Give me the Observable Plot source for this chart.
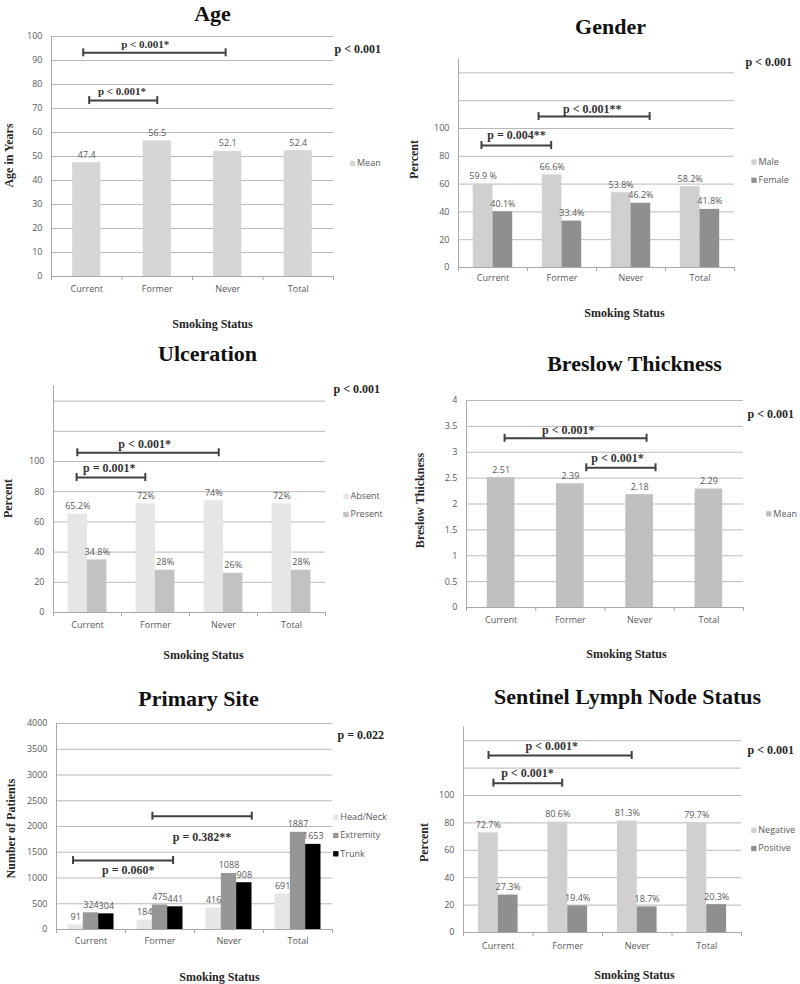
<!DOCTYPE html>
<html>
<head>
<meta charset="utf-8">
<script src="https://cdn.jsdelivr.net/npm/d3@7"></script>
<script src="https://cdn.jsdelivr.net/npm/@observablehq/plot@0.6"></script>
<style>
  body { margin: 0; background: #fff; }
  #root { position: relative; width: 800px; height: 984px; overflow: hidden; background: #fff; }
  .panel { position: absolute; }
</style>
</head>
<body>
<div id="root"></div>
<script>
// ---------------- DATA ----------------
const categories = ["Current", "Former", "Never", "Total"];

// Age
const ageSeries = ["Mean"];
const ageMean = [47.4, 56.5, 52.1, 52.4];
const ageLabels = ["47.4", "56.5", "52.1", "52.4"];

// Gender
const genderSeries = ["Male", "Female"];
const genderMale = [59.9, 66.6, 53.8, 58.2];
const genderFemale = [40.1, 33.4, 46.2, 41.8];
const genderMaleLabels = ["59.9 %", "66.6%", "53.8%", "58.2%"];
const genderFemaleLabels = ["40.1%", "33.4%", "46.2%", "41.8%"];

// Ulceration
const ulcerSeries = ["Absent", "Present"];
const ulcerAbsent = [65.2, 72, 74, 72];
const ulcerPresent = [34.8, 28, 26, 28];
const ulcerAbsentLabels = ["65.2%", "72%", "74%", "72%"];
const ulcerPresentLabels = ["34.8%", "28%", "26%", "28%"];

// Breslow thickness
const breslowSeries = ["Mean"];
const breslowMean = [2.51, 2.39, 2.18, 2.29];
const breslowLabels = ["2.51", "2.39", "2.18", "2.29"];

// Primary site
const siteSeries = ["Head/Neck", "Extremity", "Trunk"];
const siteHeadNeck = [91, 184, 416, 691];
const siteExtremity = [324, 475, 1088, 1887];
const siteTrunk = [304, 441, 908, 1653];

// Sentinel lymph node
const slnSeries = ["Negative", "Positive"];
const slnNegative = [72.7, 80.6, 81.3, 79.7];
const slnPositive = [27.3, 19.4, 18.7, 20.3];
const slnNegativeLabels = ["72.7%", "80.6%", "81.3%", "79.7%"];
const slnPositiveLabels = ["27.3%", "19.4%", "18.7%", "20.3%"];

// Tick labels
const ticksAge = [0, 10, 20, 30, 40, 50, 60, 70, 80, 90, 100];
const ticksPercent = [0, 20, 40, 60, 80, 100];
const gridPercent = [20, 40, 60, 80, 100, 120, 140];
const ticksBreslow = [0, 0.5, 1, 1.5, 2, 2.5, 3, 3.5, 4];
const ticksSite = [0, 500, 1000, 1500, 2000, 2500, 3000, 3500, 4000];

// Overall p values
const pAge = "p < 0.001";
const pGender = "p < 0.001";
const pUlcer = "p < 0.001";
const pBreslow = "p < 0.001";
const pSite = "p = 0.022";
const pSln = "p < 0.001";

// Pairwise comparison brackets (x in category units, y in value units)
const ageBrackets = [
  {x1: 0.45, x2: 2.47, y: 93.2, tx: 1.33, label: "p < 0.001*", dy: -5},
  {x1: 0.535, x2: 1.50, y: 73.3, tx: 1.0, label: "p < 0.001*", dy: -6}
];
const genderBrackets = [
  {x1: 0.333, x2: 1.343, y: 87.8, tx: 0.84, label: "p = 0.004**", dy: -6},
  {x1: 1.16, x2: 2.77, y: 108.6, tx: 1.94, label: "p < 0.001**", dy: -4}
];
const ulcerBrackets = [
  {x1: 0.35, x2: 2.43, y: 105.8, tx: 1.34, label: "p < 0.001*", dy: -5},
  {x1: 0.34, x2: 1.35, y: 89.4, tx: 0.82, label: "p = 0.001*", dy: -6}
];
const breslowBrackets = [
  {x1: 0.55, x2: 2.60, y: 3.27, tx: 1.47, label: "p < 0.001*", dy: -4},
  {x1: 1.73, x2: 2.73, y: 2.70, tx: 2.18, label: "p < 0.001*", dy: -6}
];
const siteBrackets = [
  {x1: 0.24, x2: 1.69, y: 1340, tx: 1.04, label: "p = 0.060*", dy: 14},
  {x1: 1.39, x2: 2.83, y: 2200, tx: 2.11, label: "p = 0.382**", dy: 25}
];
const slnBrackets = [
  {x1: 0.36, x2: 2.42, y: 129.2, tx: 1.27, label: "p < 0.001*", dy: -5},
  {x1: 0.43, x2: 1.42, y: 109.0, tx: 0.92, label: "p < 0.001*", dy: -6}
];

// ---------------- STYLE ----------------
const SERIF = "'Liberation Serif', 'Times New Roman', serif";
const SANS = "'Open Sans', sans-serif";
const GRID = "#b9b9b9";
const AXIS = "#a8a8a8";
const TXT = "#595959";
const BR = "#404040";

function buildPanel(c) {
  const B = c.box, F = c.frame;
  const n = c.series.length;
  const w = 1 / (n + 1.5);
  const off = (1 - n * w) / 2;
  const rows = c.series.flatMap((s, j) => categories.map((cat, i) => ({
    cat, s, v: c.values[j][i], lab: c.labels[j][i],
    x1: i + off + j * w, x2: i + off + (j + 1) * w
  })));
  const ends = c.brackets.flatMap(b => [{x: b.x1, y: b.y}, {x: b.x2, y: b.y}]);
  const at = (px, py, text, o) => Plot.text([text], {
    frameAnchor: "top-left", dx: px - F.x0, dy: py - F.y0, text: d => d, ...o
  });
  const marks = [
    Plot.ruleY(c.grid, {stroke: GRID}),
    Plot.rectY(rows, {x1: "x1", x2: "x2", y: "v", fill: "s"}),
    Plot.ruleY([0], {stroke: AXIS}),
    Plot.ruleX([0], {stroke: AXIS}),
    Plot.ruleX([0, 1, 2, 3, 4], {y1: () => 0, y2: () => 0, insetBottom: -4, stroke: AXIS}),
    Plot.axisY({ticks: c.yTicks, tickSize: 0, tickPadding: 9, tickFormat: d => String(d), label: null,
      fill: TXT, fontSize: 9, fontFamily: SANS}),
    Plot.axisX({ticks: [0.5, 1.5, 2.5, 3.5], tickFormat: d => categories[Math.floor(d)], tickSize: 0,
      tickPadding: c.xPad, label: null, fill: TXT, fontSize: 9, fontFamily: SANS}),
    Plot.text(rows, {x: d => (d.x1 + d.x2) / 2, y: "v", text: "lab", dy: -5, lineAnchor: "bottom",
      fill: TXT, fontSize: 9, fontFamily: SANS}),
    Plot.ruleY(c.brackets, {x1: "x1", x2: "x2", y: "y", stroke: BR, strokeWidth: 2}),
    Plot.ruleX(ends, {x: "x", y1: "y", y2: "y", insetTop: -4, insetBottom: -4, stroke: BR, strokeWidth: 2}),
    ...c.brackets.map(b => Plot.text([b], {x: "tx", y: "y", text: "label", dy: b.dy, lineAnchor: "bottom",
      fontFamily: SERIF, fontWeight: "bold", fontSize: c.bracketFont, fill: "#333"})),
    at(c.titlePos[0], c.titlePos[1], c.title, {textAnchor: "middle", lineAnchor: "bottom",
      fontFamily: SERIF, fontWeight: "bold", fontSize: 22, fill: "#111"}),
    at(c.yLabelPos[0], c.yLabelPos[1], c.yLabel, {rotate: -90, textAnchor: "middle", lineAnchor: "middle",
      fontFamily: SERIF, fontWeight: "bold", fontSize: 12, fill: "#262626"}),
    at(c.xTitlePos[0], c.xTitlePos[1], "Smoking Status", {textAnchor: "middle", lineAnchor: "bottom",
      fontFamily: SERIF, fontWeight: "bold", fontSize: 12, fill: "#262626"}),
    at(c.pPos[0], c.pPos[1], c.pText, {textAnchor: "start", lineAnchor: "bottom",
      fontFamily: SERIF, fontWeight: "bold", fontSize: 12, fill: "#262626"}),
    ...c.series.flatMap((s, j) => [
      Plot.dot([s], {frameAnchor: "top-left", dx: c.legendPos[0] - F.x0, dy: c.legendPos[1] + j * 18.3 - F.y0,
        symbol: "square", r: 3, fill: c.colors[j], stroke: "none"}),
      at(c.legendPos[0] + 4.5, c.legendPos[1] + j * 18.3, s, {textAnchor: "start", lineAnchor: "middle",
        fill: TXT, fontSize: 9, fontFamily: SANS})
    ])
  ];
  const chart = Plot.plot({
    width: B.w, height: B.h,
    marginLeft: F.x0 - B.x, marginRight: B.x + B.w - F.x1,
    marginTop: F.y0 - B.y, marginBottom: B.y + B.h - F.y1,
    x: {domain: [0, 4]},
    y: {domain: c.yDomain},
    color: {domain: c.series, range: c.colors},
    style: {background: "transparent", overflow: "visible"},
    marks
  });
  const div = document.createElement("div");
  div.className = "panel";
  div.style.left = B.x + "px";
  div.style.top = B.y + "px";
  div.appendChild(chart);
  document.getElementById("root").appendChild(div);
}

buildPanel({
  box: {x: 0, y: 0, w: 400, h: 330}, frame: {x0: 51, x1: 333, y0: 36, y1: 276},
  series: ageSeries, colors: ["#d6d6d6"], values: [ageMean], labels: [ageLabels],
  yDomain: [0, 100], grid: ticksAge.slice(1), yTicks: ticksAge, xPad: 9,
  brackets: ageBrackets, bracketFont: 11,
  title: "Age", titlePos: [212, 20], yLabel: "Age in Years", yLabelPos: [9, 155],
  xTitlePos: [212, 327], pText: pAge, pPos: [334, 52], legendPos: [352, 163]
});
buildPanel({
  box: {x: 400, y: 0, w: 400, h: 330}, frame: {x0: 458, x1: 734, y0: 58.5, y1: 267},
  series: genderSeries, colors: ["#d0d0d0", "#8f8f8f"], values: [genderMale, genderFemale],
  labels: [genderMaleLabels, genderFemaleLabels],
  yDomain: [0, 150], grid: gridPercent, yTicks: ticksPercent, xPad: 7,
  brackets: genderBrackets, bracketFont: 12,
  title: "Gender", titlePos: [610, 33], yLabel: "Percent", yLabelPos: [414, 159],
  xTitlePos: [624, 316], pText: pGender, pPos: [745, 65], legendPos: [753.5, 161.5]
});
buildPanel({
  box: {x: 0, y: 330, w: 400, h: 325}, frame: {x0: 53, x1: 325, y0: 385.5, y1: 612},
  series: ulcerSeries, colors: ["#e6e6e6", "#c2c2c2"], values: [ulcerAbsent, ulcerPresent],
  labels: [ulcerAbsentLabels, ulcerPresentLabels],
  yDomain: [0, 150], grid: gridPercent, yTicks: ticksPercent, xPad: 9,
  brackets: ulcerBrackets, bracketFont: 12,
  title: "Ulceration", titlePos: [207, 360], yLabel: "Percent", yLabelPos: [8, 498],
  xTitlePos: [203, 658], pText: pUlcer, pPos: [333, 392], legendPos: [345.5, 495.7]
});
buildPanel({
  box: {x: 400, y: 330, w: 400, h: 325}, frame: {x0: 466, x1: 743, y0: 400, y1: 607},
  series: breslowSeries, colors: ["#c0c0c0"], values: [breslowMean], labels: [breslowLabels],
  yDomain: [0, 4], grid: ticksBreslow.slice(1), yTicks: ticksBreslow, xPad: 9,
  brackets: breslowBrackets, bracketFont: 12,
  title: "Breslow Thickness", titlePos: [634, 370], yLabel: "Breslow Thickness", yLabelPos: [420, 500],
  xTitlePos: [626, 657], pText: pBreslow, pPos: [747, 417], legendPos: [768.3, 513.3]
});
buildPanel({
  box: {x: 0, y: 655, w: 400, h: 329}, frame: {x0: 56, x1: 332, y0: 723, y1: 929},
  series: siteSeries, colors: ["#e6e6e6", "#969696", "#000000"],
  values: [siteHeadNeck, siteExtremity, siteTrunk],
  labels: [siteHeadNeck.map(String), siteExtremity.map(String), siteTrunk.map(String)],
  yDomain: [0, 4000], grid: ticksSite.slice(1), yTicks: ticksSite, xPad: 8,
  brackets: siteBrackets, bracketFont: 12,
  title: "Primary Site", titlePos: [198, 705], yLabel: "Number of Patients", yLabelPos: [11, 828],
  xTitlePos: [219, 980], pText: pSite, pPos: [337, 738], legendPos: [335.3, 816.7]
});
buildPanel({
  box: {x: 400, y: 655, w: 400, h: 329}, frame: {x0: 463, x1: 741, y0: 726.5, y1: 932},
  series: slnSeries, colors: ["#d0d0d0", "#8f8f8f"], values: [slnNegative, slnPositive],
  labels: [slnNegativeLabels, slnPositiveLabels],
  yDomain: [0, 150], grid: gridPercent, yTicks: ticksPercent, xPad: 10,
  brackets: slnBrackets, bracketFont: 12,
  title: "Sentinel Lymph Node Status", titlePos: [627, 703], yLabel: "Percent", yLabelPos: [424, 842],
  xTitlePos: [634, 978], pText: pSln, pPos: [747, 753], legendPos: [753.3, 829.7]
});
</script>
</body>
</html>
